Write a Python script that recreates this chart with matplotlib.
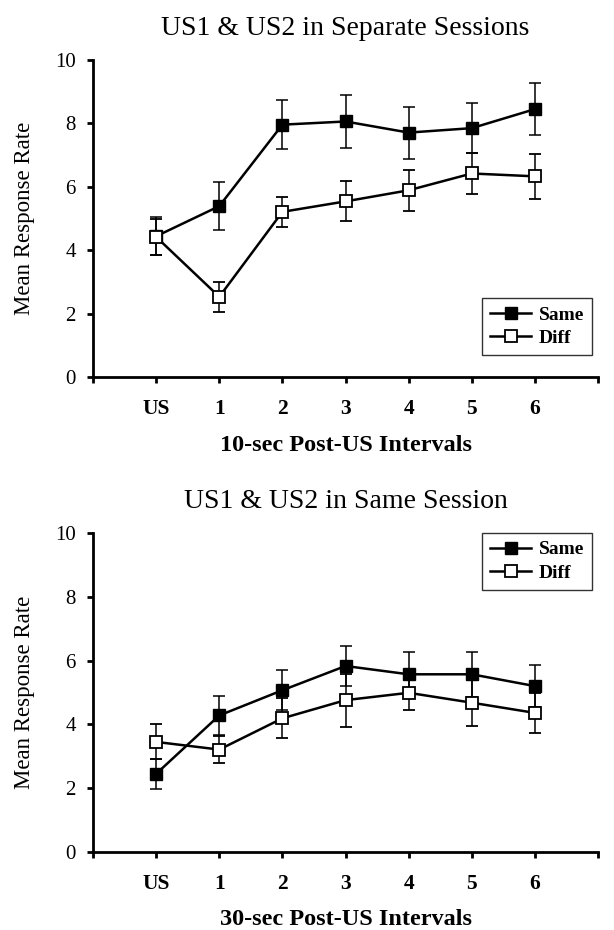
import matplotlib.pyplot as plt
from matplotlib.lines import Line2D

plt.rcParams['font.family'] = ['Liberation Serif', 'DejaVu Serif']

intervalos = ["US", "1", "2", "3", "4", "5", "6"]

# Panel superior: sesiones separadas
sep_same = [4.44, 5.39, 7.96, 8.06, 7.71, 7.85, 8.45]
sep_same_err = [0.60, 0.75, 0.77, 0.85, 0.82, 0.78, 0.82]
sep_diff = [4.42, 2.53, 5.21, 5.54, 5.89, 6.42, 6.33]
sep_diff_err = [0.58, 0.47, 0.47, 0.63, 0.65, 0.64, 0.72]

# Panel inferior: misma sesion
mis_same = [2.45, 4.28, 5.07, 5.83, 5.57, 5.57, 5.20]
mis_same_err = [0.48, 0.60, 0.63, 0.62, 0.71, 0.71, 0.65]
mis_diff = [3.45, 3.21, 4.19, 4.76, 4.99, 4.68, 4.36]
mis_diff_err = [0.55, 0.42, 0.63, 0.83, 0.53, 0.74, 0.63]

paneles = [
    ("US1 & US2 in Separate Sessions", "10-sec Post-US Intervals",
     sep_same, sep_same_err, sep_diff, sep_diff_err,
     dict(loc="lower right", bbox_to_anchor=(0.988, 0.070))),
    ("US1 & US2 in Same Session", "30-sec Post-US Intervals",
     mis_same, mis_same_err, mis_diff, mis_diff_err,
     dict(loc="upper right", bbox_to_anchor=(0.988, 1.0))),
]

fig = plt.figure(figsize=(6.14, 9.3), dpi=100)
posiciones = [[0.1515, 0.5946, 0.8225, 0.3409], [0.1515, 0.0839, 0.8225, 0.3430]]

x = list(range(len(intervalos)))
for pos, (titulo, xlab, same, same_e, diff, diff_e, legkw) in zip(posiciones, paneles):
    ax = fig.add_axes(pos)
    ax.errorbar(x, same, yerr=same_e, color='black', lw=1.8, marker='s',
                ms=9, mfc='black', mec='black', ecolor='black', elinewidth=1.1,
                capsize=4, capthick=1.1, zorder=3)
    ax.errorbar(x, diff, yerr=diff_e, color='black', lw=1.8, marker='s',
                ms=9, mfc='white', mec='black', mew=1.3, ecolor='black',
                elinewidth=1.1, capsize=4, capthick=1.1, zorder=4)
    ax.set_xlim(-1, 7)
    ax.set_ylim(0, 10)
    ax.set_yticks([0, 2, 4, 6, 8, 10])
    ax.set_xticks(x)
    ax.set_xticklabels(intervalos)
    ax.set_xticks([-1, 7], minor=True)
    ax.spines['top'].set_visible(False)
    ax.spines['right'].set_visible(False)
    ax.spines['left'].set_linewidth(2)
    ax.spines['bottom'].set_linewidth(2)
    ax.tick_params(axis='both', which='both', direction='out', length=4.5, width=2)
    ax.tick_params(axis='y', labelsize=15, pad=8)
    ax.tick_params(axis='x', labelsize=15.5, pad=11.5)
    for lab in ax.get_xticklabels():
        lab.set_fontweight('bold')
    ax.set_title(titulo, fontsize=20, pad=18)
    ax.set_xlabel(xlab, fontsize=17.5, fontweight='bold', labelpad=11)
    ax.set_ylabel("Mean Response Rate", fontsize=16.5, labelpad=14)

    manejadores = [
        Line2D([], [], color='black', lw=1.8, marker='s', ms=9, mfc='black', mec='black'),
        Line2D([], [], color='black', lw=1.8, marker='s', ms=9, mfc='white', mec='black', mew=1.3),
    ]
    leg = ax.legend(manejadores, ["Same", "Diff"], frameon=True, fancybox=False,
                    edgecolor='black', handlelength=2.1, handletextpad=0.4,
                    borderpad=0.4, labelspacing=0.3, borderaxespad=0,
                    prop={'size': 14, 'weight': 'bold'}, **legkw)
    leg.get_frame().set_linewidth(1)

plt.savefig("out.png", dpi=100)
